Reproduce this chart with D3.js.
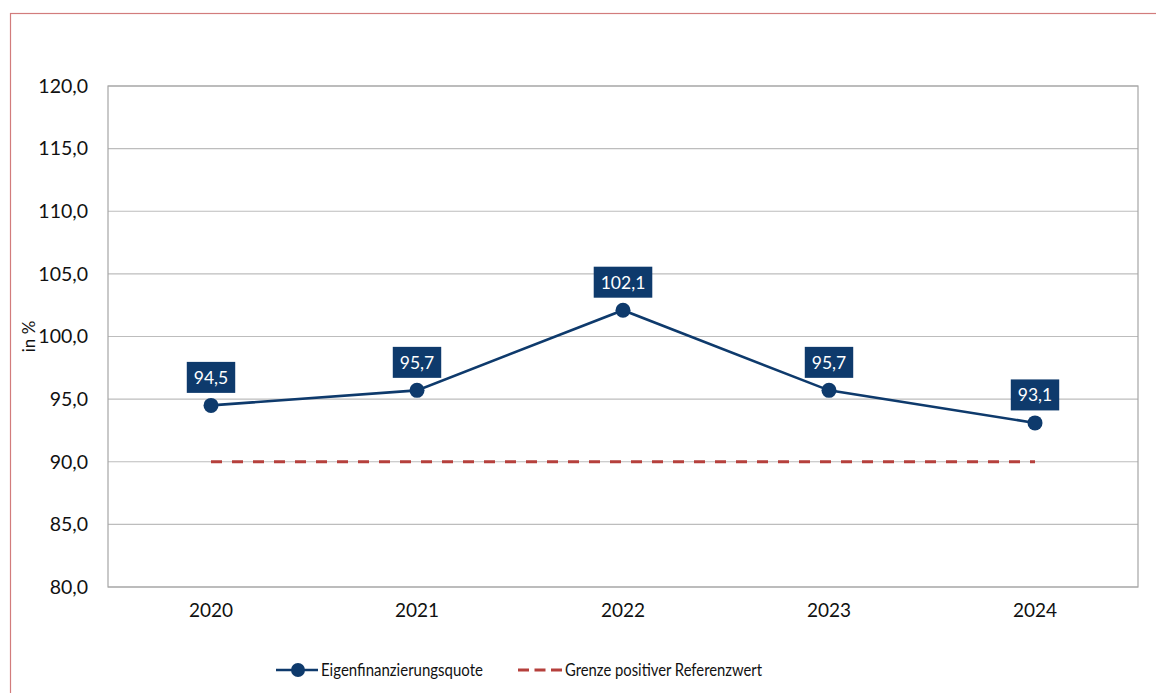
<!DOCTYPE html>
<html><head><meta charset="utf-8">
<script src="https://cdn.jsdelivr.net/npm/d3@7/dist/d3.min.js"></script>
<style>body{margin:0;background:#fff;} svg{display:block;font-family:Lato, "Open Sans", sans-serif;}</style>
</head><body>
<svg id="c" width="1156" height="693"></svg>
<script>
const years = ["2020","2021","2022","2023","2024"];
const quote = [94.5, 95.7, 102.1, 95.7, 93.1];
const reference = [90, 90, 90, 90, 90];
const yTicks = [80, 85, 90, 95, 100, 105, 110, 115, 120];
const seriesNames = ["Eigenfinanzierungsquote", "Grenze positiver Referenzwert"];
const yTitle = "in %";

const svg = d3.select("#c");
const W = 1156, H = 693;
const m = {l:108, t:86, r:1138, b:587};
const navy = "#0E3A6C", red = "#B5403C";

svg.append("rect").attr("x",10.5).attr("y",13.5).attr("width",W).attr("height",H).attr("fill","none").attr("stroke","#D27C7C").attr("stroke-width",1.2);

const x = d3.scaleBand().domain(years).range([m.l, m.r]);
const y = d3.scaleLinear().domain([80,120]).range([m.b, m.t]);
const fmt = v => d3.format(".1f")(v).replace(".", ",");

svg.append("g").selectAll("line").data(yTicks).join("line")
  .attr("x1",m.l).attr("x2",m.r).attr("y1",d=>y(d)).attr("y2",d=>y(d))
  .attr("stroke","#BDBDBD").attr("stroke-width",1.2);
svg.append("rect").attr("x",m.l).attr("y",m.t).attr("width",m.r-m.l).attr("height",m.b-m.t)
  .attr("fill","none").attr("stroke","#A6A6A6").attr("stroke-width",1.2);

const yAxis = svg.append("g").attr("transform",`translate(${m.l},0)`)
  .call(d3.axisLeft(y).tickValues(yTicks).tickFormat(fmt).tickSize(0).tickPadding(20));
yAxis.select(".domain").remove();
yAxis.selectAll("text").attr("font-size",19.5).attr("fill","#111").attr("font-family","Lato");

const xAxis = svg.append("g").attr("transform",`translate(0,${m.b})`)
  .call(d3.axisBottom(x).tickSize(0).tickPadding(17));
xAxis.select(".domain").remove();
xAxis.selectAll("text").attr("font-size",19).attr("fill","#111").attr("font-family","Lato");

svg.append("text").attr("transform",`translate(35,${(m.t+m.b)/2}) rotate(-90)`)
  .attr("text-anchor","middle").attr("font-size",17).attr("fill","#111").text(yTitle);

const cx = d => x(d) + x.bandwidth()/2;

svg.append("path").datum(reference)
  .attr("d", d3.line().x((d,i)=>cx(years[i])).y(d=>y(d)))
  .attr("fill","none").attr("stroke",red).attr("stroke-width",3.2).attr("stroke-dasharray","11,10");

svg.append("path").datum(quote)
  .attr("d", d3.line().x((d,i)=>cx(years[i])).y(d=>y(d)))
  .attr("fill","none").attr("stroke",navy).attr("stroke-width",2.6);
svg.append("g").selectAll("circle").data(quote).join("circle")
  .attr("cx",(d,i)=>cx(years[i])).attr("cy",d=>y(d)).attr("r",7.5).attr("fill",navy);

const lg = svg.append("g").selectAll("g").data(quote).join("g")
  .attr("transform",(d,i)=>`translate(${cx(years[i])},${y(d)-28})`);
lg.append("rect").attr("y",-15.5).attr("height",31).attr("fill",navy);
lg.append("text").attr("text-anchor","middle").attr("dy","0.36em").attr("font-size",17.5)
  .attr("fill","#fff").text(d=>fmt(d));
lg.each(function(){
  const g = d3.select(this); const w = g.select("text").node().getBBox().width + 14;
  g.select("rect").attr("x",-w/2).attr("width",w);
});

const ly = 670;
const leg = svg.append("g");
leg.append("line").attr("x1",276).attr("x2",318).attr("y1",ly).attr("y2",ly).attr("stroke",navy).attr("stroke-width",2.6);
leg.append("circle").attr("cx",298).attr("cy",ly).attr("r",7).attr("fill",navy);
leg.append("text").attr("x",321).attr("y",ly).attr("dy","0.35em").attr("font-size",17.5).attr("fill","#111")
  .attr("textLength",162).attr("lengthAdjust","spacingAndGlyphs").text(seriesNames[0]);
leg.append("line").attr("x1",518).attr("x2",562).attr("y1",ly).attr("y2",ly).attr("stroke",red).attr("stroke-width",3.2).attr("stroke-dasharray","11,5.5");
leg.append("text").attr("x",565).attr("y",ly).attr("dy","0.35em").attr("font-size",17.5).attr("fill","#111")
  .attr("textLength",197).attr("lengthAdjust","spacingAndGlyphs").text(seriesNames[1]);
</script>
</body></html>
